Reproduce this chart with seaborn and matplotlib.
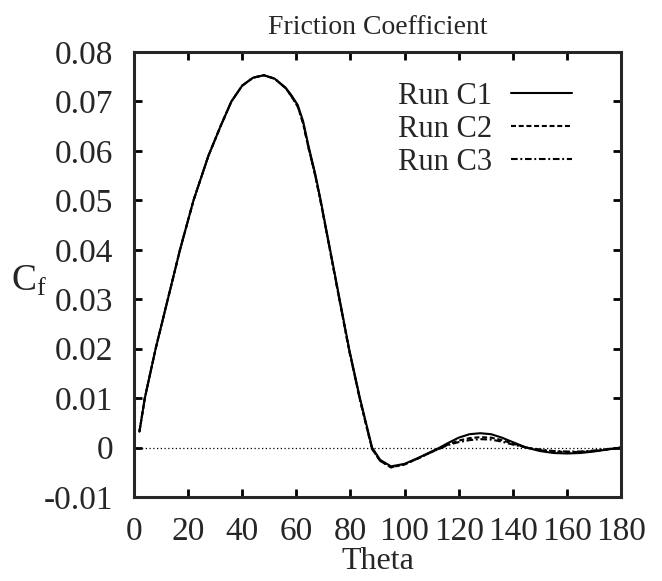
import numpy as np
import pandas as pd
import matplotlib
matplotlib.use("Agg")
import matplotlib.pyplot as plt
import seaborn as sns

# ---- data ----
theta = [2, 4, 8, 12.5, 17, 22, 27.5, 32, 36, 40, 44, 48, 52, 56, 58, 60.5,
         62.5, 64.5, 67, 69, 72.5, 76, 79.5, 83.5, 88, 91, 95, 100, 105, 110,
         113, 116, 120, 124, 128, 132, 136, 140, 145, 150, 155, 160, 165, 170,
         175, 180]
run_c1 = [0.0032, 0.010, 0.020, 0.030, 0.040, 0.050, 0.059, 0.065, 0.070, 0.0732,
          0.0748, 0.0753, 0.0746, 0.0728, 0.0714, 0.0693, 0.0660, 0.0610, 0.0553,
          0.050, 0.040, 0.030, 0.020, 0.010, 0.000, -0.0025, -0.0038, -0.0033,
          -0.0021, -0.0008, 0.0000, 0.0009, 0.0020, 0.0027, 0.0029, 0.0027,
          0.0020, 0.0011, 0.0000, -0.0007, -0.0011, -0.0012, -0.0011, -0.0008,
          -0.0004, 0.0000]
run_c2 = [0.0032, 0.010, 0.020, 0.030, 0.040, 0.050, 0.059, 0.065, 0.070, 0.0732,
          0.0748, 0.0753, 0.0746, 0.0727, 0.0712, 0.0690, 0.0656, 0.0606, 0.0550,
          0.0497, 0.0397, 0.0297, 0.0197, 0.0097, -0.0003, -0.0027, -0.0040, -0.0034,
          -0.0022, -0.0009, -0.0002, 0.0006, 0.0014, 0.0019, 0.0021, 0.0020,
          0.0015, 0.0008, 0.0000, -0.0005, -0.0008, -0.0009, -0.0009, -0.0007,
          -0.0004, 0.0000]
run_c3 = [0.0032, 0.010, 0.020, 0.030, 0.040, 0.050, 0.059, 0.065, 0.070, 0.0732,
          0.0748, 0.0753, 0.0746, 0.0727, 0.0712, 0.0690, 0.0656, 0.0606, 0.0550,
          0.0497, 0.0397, 0.0297, 0.0197, 0.0097, -0.0003, -0.0027, -0.0040, -0.0034,
          -0.0022, -0.0009, -0.0002, 0.0005, 0.0011, 0.0015, 0.0017, 0.0016,
          0.0012, 0.0006, 0.0000, -0.0004, -0.0007, -0.0008, -0.0008, -0.0006,
          -0.0003, 0.0000]
series_names = ["Run C1", "Run C2", "Run C3"]
x_ticks = [0, 20, 40, 60, 80, 100, 120, 140, 160, 180]
y_ticks = [-0.01, 0, 0.01, 0.02, 0.03, 0.04, 0.05, 0.06, 0.07, 0.08]
y_tick_labels = ["-0.01", "0", "0.01", "0.02", "0.03", "0.04", "0.05", "0.06", "0.07", "0.08"]

df = pd.DataFrame({
    "Theta": theta * 3,
    "Cf": run_c1 + run_c2 + run_c3,
    "Run": sum([[n] * len(theta) for n in series_names], []),
})

sns.set_style("ticks")
plt.rcParams["font.family"] = ["Liberation Serif", "DejaVu Serif"]
plt.rcParams["axes.unicode_minus"] = False
plt.rcParams["mathtext.fontset"] = "custom"
plt.rcParams["mathtext.rm"] = "Liberation Serif"

fig = plt.figure(figsize=(6.62, 5.81), dpi=100)
ax = fig.add_axes([134 / 662, 1 - 497 / 581, 487 / 662, 445 / 581])

styles = {"Run C1": "-", "Run C2": (0, (2.4, 1.3)), "Run C3": (0, (3.2, 1.3, 0.9, 1.3))}
for name in series_names:
    sub = df[df["Run"] == name]
    sns.lineplot(data=sub, x="Theta", y="Cf", ax=ax, color="black", lw=1.5,
                 linestyle=styles[name], label=name, sort=False)

ax.axhline(0, color="black", lw=0.9, linestyle=(0, (1, 2)), zorder=0)

ax.set_xlim(0, 180)
ax.set_ylim(-0.01, 0.08)
ax.set_xticks(x_ticks)
ax.set_xticklabels([str(t) for t in x_ticks])
ax.set_yticks(y_ticks)
ax.set_yticklabels(y_tick_labels)
ax.tick_params(direction="in", length=6, width=2, top=True, right=True,
               labelsize=24, color="black")
ax.tick_params(axis="y", pad=15)
ax.tick_params(axis="x", pad=14)
for s in ax.spines.values():
    s.set_linewidth(2.2)
    s.set_visible(True)

ax.set_title("Friction Coefficient", fontsize=20, pad=13)
ax.set_xlabel("Theta", fontsize=23, labelpad=0)
ax.set_ylabel(r"$\mathregular{C_f}$", fontsize=27, rotation=0, ha="center", va="center")
ax.yaxis.set_label_coords(-0.215, 0.485)

leg = ax.legend(loc="upper right", bbox_to_anchor=(572 / 662, 1 - 82 / 581),
                bbox_transform=fig.transFigure, frameon=False, markerfirst=False,
                fontsize=22, handlelength=2.0, handletextpad=0.6, labelspacing=0.13,
                borderpad=0, borderaxespad=0)

fig.savefig("out.png", dpi=100)
